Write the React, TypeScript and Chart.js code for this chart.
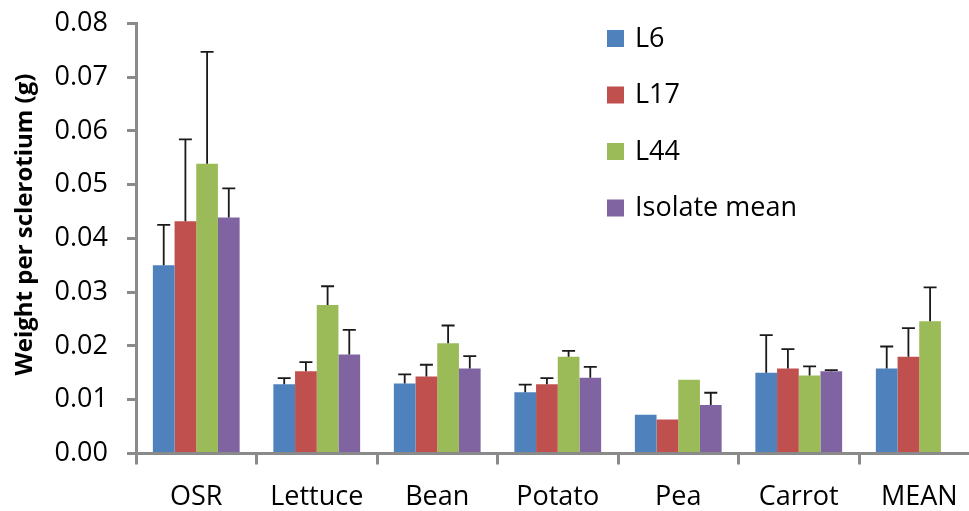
import React, { useEffect, useRef } from "react";
import { Chart, registerables } from "chart.js";

Chart.register(...registerables);

const categories = ["OSR", "Lettuce", "Bean", "Potato", "Pea", "Carrot", "MEAN"];
const seriesNames = ["L6", "L17", "L44", "Isolate mean"];
const seriesColors = ["#4F81BD", "#C0504D", "#9BBB59", "#8064A2"];

const l6Values = [0.035, 0.0129, 0.013, 0.0114, 0.0072, 0.015, 0.0158];
const l17Values = [0.0432, 0.0153, 0.0143, 0.0129, 0.0063, 0.0158, 0.018];
const l44Values = [0.0539, 0.0276, 0.0205, 0.018, 0.0137, 0.0145, 0.0246];
const meanValues = [0.0439, 0.0184, 0.0158, 0.0141, 0.009, 0.0153, null];

const l6Errors = [0.0075, 0.0011, 0.0017, 0.0014, 0, 0.007, 0.0041];
const l17Errors = [0.0152, 0.0017, 0.0022, 0.0011, 0, 0.0036, 0.0053];
const l44Errors = [0.0208, 0.0035, 0.0033, 0.0011, 0, 0.0017, 0.0063];
const meanErrors = [0.0054, 0.0046, 0.0023, 0.002, 0.0023, 0.0002, null];

const yMin = 0;
const yMax = 0.08;
const yStep = 0.01;
const yTitle = "Weight per sclerotium (g)";

const FONT = "'Open Sans', sans-serif";
const AXIS_COLOR = "#8A8A8A";

const errorBarPlugin = {
  id: "errorBars",
  afterDatasetsDraw(chart: any) {
    const ctx = chart.ctx;
    const yScale = chart.scales.y;
    const errs = [l6Errors, l17Errors, l44Errors, meanErrors];
    ctx.save();
    ctx.strokeStyle = "#1A1A1A";
    ctx.lineWidth = 1.8;
    chart.data.datasets.forEach((ds: any, i: number) => {
      const meta = chart.getDatasetMeta(i);
      meta.data.forEach((bar: any, j: number) => {
        const v = ds.data[j];
        const e = errs[i][j];
        if (v == null || e == null || e <= 0) return;
        const yTop = yScale.getPixelForValue(v + e);
        const x = bar.x;
        ctx.beginPath();
        ctx.moveTo(x, bar.y);
        ctx.lineTo(x, yTop);
        ctx.moveTo(x - 6.5, yTop);
        ctx.lineTo(x + 6.5, yTop);
        ctx.stroke();
      });
    });
    ctx.restore();
  },
};

const customLegendPlugin = {
  id: "customLegend",
  afterDraw(chart: any) {
    const ctx = chart.ctx;
    ctx.save();
    ctx.font = `27px ${FONT}`;
    ctx.textBaseline = "middle";
    ctx.textAlign = "left";
    chart.data.datasets.forEach((ds: any, i: number) => {
      const cy = 38 + i * 56.5;
      ctx.fillStyle = ds.backgroundColor;
      ctx.fillRect(607, cy - 8, 17, 17);
      ctx.fillStyle = "#000";
      ctx.fillText(ds.label, 635, cy + 1);
    });
    ctx.restore();
  },
};

const yTitlePlugin = {
  id: "yTitle",
  afterDraw(chart: any) {
    const ctx = chart.ctx;
    ctx.save();
    ctx.translate(25, 224.5);
    ctx.rotate(-Math.PI / 2);
    ctx.font = `bold 24px ${FONT}`;
    ctx.fillStyle = "#000";
    ctx.textAlign = "center";
    ctx.textBaseline = "middle";
    ctx.fillText(yTitle, 0, 0);
    ctx.restore();
  },
};

export default function App() {
  const canvasRef = useRef<HTMLCanvasElement>(null);

  useEffect(() => {
    if (!canvasRef.current) return;
    const valueSets = [l6Values, l17Values, l44Values, meanValues];
    const chart = new Chart(canvasRef.current, {
      type: "bar",
      data: {
        labels: categories,
        datasets: seriesNames.map((name, i) => ({
          label: name,
          data: valueSets[i] as any,
          backgroundColor: seriesColors[i],
          borderWidth: 0,
          categoryPercentage: 0.72,
          barPercentage: 1,
        })),
      },
      options: {
        responsive: false,
        animation: false,
        devicePixelRatio: 1,
        layout: { padding: { top: 23.3, right: 1.5, left: 0, bottom: 0 } },
        plugins: {
          legend: { display: false },
          tooltip: { enabled: false },
        },
        scales: {
          x: {
            grid: {
              display: true,
              drawOnChartArea: false,
              drawTicks: true,
              tickLength: 11,
              color: AXIS_COLOR,
              lineWidth: 3,
              offset: true,
            },
            border: { display: true, color: AXIS_COLOR, width: 3 },
            ticks: {
              color: "#000",
              font: { family: FONT, size: 27 },
              padding: 17,
              maxRotation: 0,
              autoSkip: false,
            },
            afterFit(scale: any) {
              scale.height = 57.5;
            },
          },
          y: {
            min: yMin,
            max: yMax,
            grid: {
              display: true,
              drawOnChartArea: false,
              drawTicks: true,
              tickLength: 9,
              color: AXIS_COLOR,
              lineWidth: 3,
            },
            border: { display: true, color: AXIS_COLOR, width: 3 },
            ticks: {
              stepSize: yStep,
              color: "#000",
              font: { family: FONT, size: 27 },
              padding: 19,
              callback: (v: any) => Number(v).toFixed(2),
            },
            afterFit(scale: any) {
              scale.width = 136;
              scale.paddingTop = 0;
              scale.paddingBottom = 0;
            },
          },
        },
      },
      plugins: [errorBarPlugin, customLegendPlugin, yTitlePlugin],
    });
    return () => chart.destroy();
  }, []);

  return (
    <div
      style={{
        position: "fixed",
        left: 0,
        top: 0,
        width: 969,
        height: 511,
        overflow: "hidden",
        background: "#fff",
      }}
    >
      <canvas ref={canvasRef} width={981} height={511} style={{ display: "block" }} />
    </div>
  );
}
